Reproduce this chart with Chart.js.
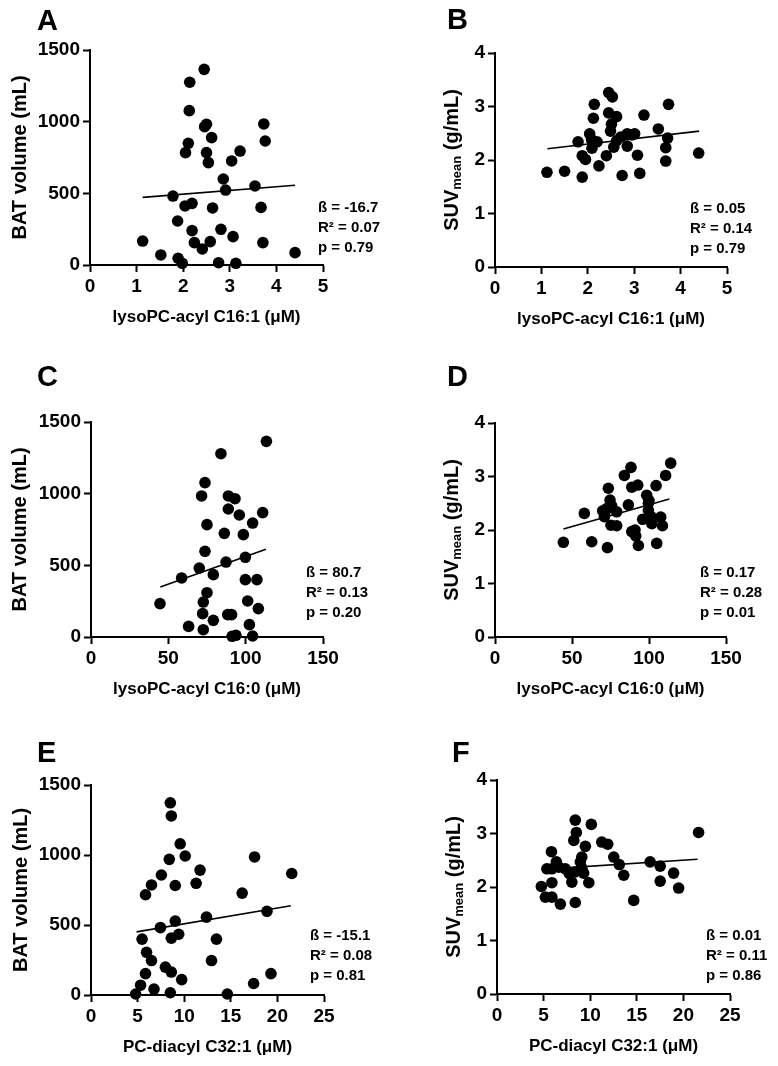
<!DOCTYPE html>
<html lang="en">
<head>
  <meta charset="UTF-8" />
  <title>BAT volume and SUVmean vs plasma lipid species</title>
  <script src="https://cdn.jsdelivr.net/npm/chart.js"></script>
  <style>
    body { margin: 0; background: #fff; }
    #wrap { position: relative; width: 778px; height: 1066px; overflow: hidden; background: #fff; }
    #wrap canvas { position: absolute; left: 0; top: 0; }
  </style>
</head>
<body>
<div id="wrap">
  <canvas id="pA" width="778" height="1066"></canvas>
  <canvas id="pB" width="778" height="1066"></canvas>
  <canvas id="pC" width="778" height="1066"></canvas>
  <canvas id="pD" width="778" height="1066"></canvas>
  <canvas id="pE" width="778" height="1066"></canvas>
  <canvas id="pF" width="778" height="1066"></canvas>
</div>
<script>
  // tick values
  const xTicksC161 = [0, 1, 2, 3, 4, 5];
  const xTicksC160 = [0, 50, 100, 150];
  const xTicksC321 = [0, 5, 10, 15, 20, 25];
  const yTicksBat = [0, 500, 1000, 1500];
  const yTicksSuv = [0, 1, 2, 3, 4];

  // A: BAT volume vs lysoPC-acyl C16:1
  const aX = [2.45, 2.14, 2.13, 2.50, 2.46, 3.73, 2.61, 2.11, 3.76, 2.05, 2.50, 3.22, 2.54, 3.04, 2.86, 2.91, 3.54, 1.78, 2.04, 2.19, 2.63, 3.67, 1.88, 2.19, 2.81, 3.07, 1.13, 2.24, 2.58, 3.71, 2.41, 1.52, 1.89, 1.98, 2.76, 3.13, 4.40];
  const aY = [1365, 1275, 1077, 982, 965, 984, 889, 849, 865, 784, 784, 795, 714, 726, 600, 523, 551, 481, 412, 430, 398, 402, 307, 240, 249, 198, 167, 156, 163, 156, 112, 70, 47, 12, 16, 12, 86];
  const aFitX = [1.13, 4.40];
  const aFitY = [472, 556];
  const statsA = ['ß = -16.7', 'R² = 0.07', 'p = 0.79'];

  // B: SUVmean vs lysoPC-acyl C16:1
  const bX = [2.45, 2.53, 2.14, 3.74, 2.45, 2.62, 3.21, 2.12, 2.51, 2.49, 2.04, 2.85, 3.01, 3.52, 3.72, 1.79, 2.08, 2.20, 2.09, 2.62, 2.56, 2.85, 3.68, 1.88, 1.95, 2.40, 3.07, 3.68, 4.39, 2.24, 1.12, 1.50, 1.88, 2.74, 3.12, 2.71, 2.95];
  const bY = [3.26, 3.18, 3.04, 3.04, 2.88, 2.81, 2.84, 2.78, 2.67, 2.54, 2.49, 2.49, 2.49, 2.58, 2.41, 2.34, 2.38, 2.34, 2.22, 2.36, 2.24, 2.26, 2.23, 2.08, 2.01, 2.08, 2.09, 1.98, 2.13, 1.89, 1.77, 1.79, 1.68, 1.71, 1.75, 2.43, 2.47];
  const bFitX = [1.13, 4.40];
  const bFitY = [2.21, 2.54];
  const statsB = ['ß = 0.05', 'R² = 0.14', 'p = 0.79'];

  // C: BAT volume vs lysoPC-acyl C16:0
  const cX = [113.4, 84.0, 73.7, 71.5, 88.8, 93.1, 88.8, 95.9, 111.0, 75.0, 104.5, 86.2, 98.5, 73.7, 99.8, 87.3, 70.0, 58.6, 79.1, 99.8, 107.3, 75.0, 72.6, 101.3, 44.6, 72.2, 88.4, 90.9, 108.2, 79.1, 63.1, 72.6, 102.4, 91.2, 93.7, 104.5];
  const cY = [1365, 1279, 1077, 984, 984, 965, 893, 851, 868, 784, 795, 723, 714, 598, 556, 523, 481, 412, 435, 400, 400, 309, 244, 251, 233, 163, 156, 156, 198, 116, 74, 51, 86, 5, 12, 7];
  const cFitX = [44.8, 113.1];
  const cFitY = [349, 612];
  const statsC = ['ß = 80.7', 'R² = 0.13', 'p = 0.20'];

  // D: SUVmean vs lysoPC-acyl C16:0
  const dX = [114.1, 88.3, 84.0, 110.8, 92.7, 88.8, 104.6, 73.6, 98.5, 74.7, 100.0, 86.6, 58.0, 69.9, 72.5, 79.0, 71.0, 99.6, 101.3, 95.9, 107.6, 101.8, 75.3, 79.0, 108.7, 88.8, 91.4, 44.4, 62.8, 73.0, 93.1, 105.0, 90.9, 75.8, 99.6, 71.5];
  const dY = [3.25, 3.17, 3.02, 3.02, 2.84, 2.80, 2.83, 2.78, 2.65, 2.56, 2.55, 2.47, 2.31, 2.36, 2.40, 2.34, 2.25, 2.37, 2.25, 2.20, 2.24, 2.12, 2.09, 2.08, 2.08, 1.97, 1.89, 1.77, 1.78, 1.67, 1.71, 1.75, 2.00, 2.45, 2.50, 2.34];
  const dFitX = [44.4, 113.2];
  const dFitY = [2.02, 2.58];
  const statsD = ['ß = 0.17', 'R² = 0.28', 'p = 0.01'];

  // E: BAT volume vs PC-diacyl C32:1
  const eX = [8.51, 8.62, 9.57, 8.40, 10.11, 17.55, 11.70, 7.55, 21.54, 6.49, 9.04, 11.28, 5.85, 16.22, 12.39, 18.88, 9.04, 7.45, 9.41, 8.62, 5.48, 13.46, 5.96, 6.49, 12.93, 7.98, 8.62, 5.85, 9.73, 19.31, 17.45, 5.32, 6.76, 4.79, 8.51, 14.63];
  const eY = [1373, 1279, 1080, 969, 993, 986, 892, 857, 868, 786, 782, 798, 716, 728, 556, 598, 528, 481, 434, 406, 399, 399, 305, 246, 246, 199, 164, 153, 110, 153, 82, 70, 42, 7, 16, 7];
  const eFitX = [4.89, 21.44];
  const eFitY = [451, 638];
  const statsE = ['ß = -15.1', 'R² = 0.08', 'p = 0.81'];

  // F: SUVmean vs PC-diacyl C32:1
  const fX = [8.40, 10.12, 8.51, 21.63, 8.24, 9.48, 11.24, 11.88, 5.84, 9.10, 12.53, 6.37, 16.43, 13.12, 17.51, 5.35, 7.33, 9.10, 18.95, 7.76, 8.40, 13.60, 8.03, 5.89, 9.85, 17.51, 4.76, 19.49, 5.19, 5.89, 6.80, 8.40, 14.67, 5.89, 8.94, 6.64, 9.30];
  const fY = [3.25, 3.17, 3.02, 3.02, 2.87, 2.76, 2.84, 2.80, 2.66, 2.56, 2.56, 2.47, 2.47, 2.42, 2.39, 2.34, 2.34, 2.35, 2.26, 2.25, 2.28, 2.22, 2.09, 2.08, 2.08, 2.11, 2.01, 1.98, 1.81, 1.81, 1.68, 1.71, 1.75, 2.34, 2.47, 2.37, 2.26];
  const fFitX = [4.82, 21.52];
  const fFitY = [2.33, 2.52];
  const statsF = ['ß = 0.01', 'R² = 0.11', 'p = 0.86'];

  const FONT = '"Liberation Sans", Arial, Helvetica, sans-serif';
  const W = 778, H = 1066;
  const Y_AXIS_W = 60, X_AXIS_H = 40;

  const batTitle = [['BAT volume (mL)', 20, 0]];
  const suvTitle = [['SUV', 20, 0], ['mean', 13, 5], [' (g/mL)', 20, 0]];

  const panels = [
    { id: 'pA', letter: 'A', xs: aX, ys: aY, fitX: aFitX, fitY: aFitY, xTicks: xTicksC161, yTicks: yTicksBat,
      yTitle: batTitle, xTitle: 'lysoPC-acyl C16:1 (μM)', stats: statsA,
      area: { l: 90, r: 323, t: 50, b: 265 }, letterPos: [37, 30], statsPos: [318, 208], yTitleX: 20 },
    { id: 'pB', letter: 'B', xs: bX, ys: bY, fitX: bFitX, fitY: bFitY, xTicks: xTicksC161, yTicks: yTicksSuv,
      yTitle: suvTitle, xTitle: 'lysoPC-acyl C16:1 (μM)', stats: statsB,
      area: { l: 495, r: 727, t: 53, b: 267 }, letterPos: [447, 29], statsPos: [690, 209], yTitleX: 452 },
    { id: 'pC', letter: 'C', xs: cX, ys: cY, fitX: cFitX, fitY: cFitY, xTicks: xTicksC160, yTicks: yTicksBat,
      yTitle: batTitle, xTitle: 'lysoPC-acyl C16:0 (μM)', stats: statsC,
      area: { l: 91, r: 323, t: 422, b: 637 }, letterPos: [37, 386], statsPos: [306, 573], yTitleX: 20 },
    { id: 'pD', letter: 'D', xs: dX, ys: dY, fitX: dFitX, fitY: dFitY, xTicks: xTicksC160, yTicks: yTicksSuv,
      yTitle: suvTitle, xTitle: 'lysoPC-acyl C16:0 (μM)', stats: statsD,
      area: { l: 495, r: 726, t: 423, b: 637 }, letterPos: [447, 386], statsPos: [700, 573], yTitleX: 452 },
    { id: 'pE', letter: 'E', xs: eX, ys: eY, fitX: eFitX, fitY: eFitY, xTicks: xTicksC321, yTicks: yTicksBat,
      yTitle: batTitle, xTitle: 'PC-diacyl C32:1 (μM)', stats: statsE,
      area: { l: 91, r: 324, t: 785, b: 995 }, letterPos: [37, 762], statsPos: [310, 936], yTitleX: 21 },
    { id: 'pF', letter: 'F', xs: fX, ys: fY, fitX: fFitX, fitY: fFitY, xTicks: xTicksC321, yTicks: yTicksSuv,
      yTitle: suvTitle, xTitle: 'PC-diacyl C32:1 (μM)', stats: statsF,
      area: { l: 497, r: 730, t: 780, b: 994 }, letterPos: [452, 762], statsPos: [706, 936], yTitleX: 454 }
  ];

  // draws panel letter, axis titles (with subscript) and the stats box
  const panelText = {
    id: 'panelText',
    afterDraw(chart, args, o) {
      const ctx = chart.ctx, a = chart.chartArea;
      ctx.save();
      ctx.fillStyle = '#000';

      ctx.font = `bold 29px ${FONT}`;
      ctx.textAlign = 'left';
      ctx.textBaseline = 'alphabetic';
      ctx.fillText(o.letter, o.letterPos[0], o.letterPos[1]);

      ctx.font = `bold 17px ${FONT}`;
      ctx.textAlign = 'center';
      ctx.textBaseline = 'middle';
      ctx.fillText(o.xTitle, (a.left + a.right) / 2, a.bottom + 52);

      ctx.save();
      ctx.translate(o.yTitleX, (a.top + a.bottom) / 2);
      ctx.rotate(-Math.PI / 2);
      ctx.textAlign = 'left';
      ctx.textBaseline = 'middle';
      let total = 0;
      o.yTitle.forEach(([t, s]) => { ctx.font = `bold ${s}px ${FONT}`; total += ctx.measureText(t).width; });
      let x = -total / 2;
      o.yTitle.forEach(([t, s, dy]) => {
        ctx.font = `bold ${s}px ${FONT}`;
        ctx.fillText(t, x, dy);
        x += ctx.measureText(t).width;
      });
      ctx.restore();

      ctx.font = `bold 15px ${FONT}`;
      ctx.textAlign = 'left';
      ctx.textBaseline = 'middle';
      o.stats.forEach((t, i) => ctx.fillText(t, o.statsPos[0], o.statsPos[1] + i * 20));
      ctx.restore();
    }
  };

  function axis(ticks, fit) {
    return {
      type: 'linear',
      min: ticks[0],
      max: ticks[ticks.length - 1],
      afterFit: fit,
      afterBuildTicks: s => { s.ticks = ticks.map(v => ({ value: v })); },
      ticks: {
        color: '#000',
        padding: 3,
        autoSkip: false,
        maxRotation: 0,
        callback: v => String(v),
        font: { family: FONT, size: 19, weight: 'bold' }
      },
      grid: { drawOnChartArea: false, color: '#000', tickColor: '#000', tickLength: 7, tickWidth: 2 },
      border: { display: true, color: '#000', width: 2 }
    };
  }

  panels.forEach(p => {
    new Chart(document.getElementById(p.id), {
      type: 'scatter',
      data: {
        datasets: [
          {
            data: p.xs.map((x, i) => ({ x: x, y: p.ys[i] })),
            backgroundColor: '#000',
            borderColor: '#000',
            pointRadius: 5.8,
            borderWidth: 0,
            clip: false
          },
          {
            data: p.fitX.map((x, i) => ({ x: x, y: p.fitY[i] })),
            showLine: true,
            borderColor: '#000',
            borderWidth: 1.6,
            pointRadius: 0,
            clip: false
          }
        ]
      },
      options: {
        responsive: false,
        animation: false,
        devicePixelRatio: 1,
        layout: {
          padding: {
            left: p.area.l - Y_AXIS_W,
            right: W - p.area.r,
            top: p.area.t,
            bottom: H - p.area.b - X_AXIS_H
          }
        },
        plugins: {
          legend: { display: false },
          tooltip: { enabled: false },
          panelText: p
        },
        scales: {
          x: axis(p.xTicks, s => { s.height = X_AXIS_H; }),
          y: axis(p.yTicks, s => { s.width = Y_AXIS_W; })
        }
      },
      plugins: [panelText]
    });
  });
</script>
</body>
</html>
